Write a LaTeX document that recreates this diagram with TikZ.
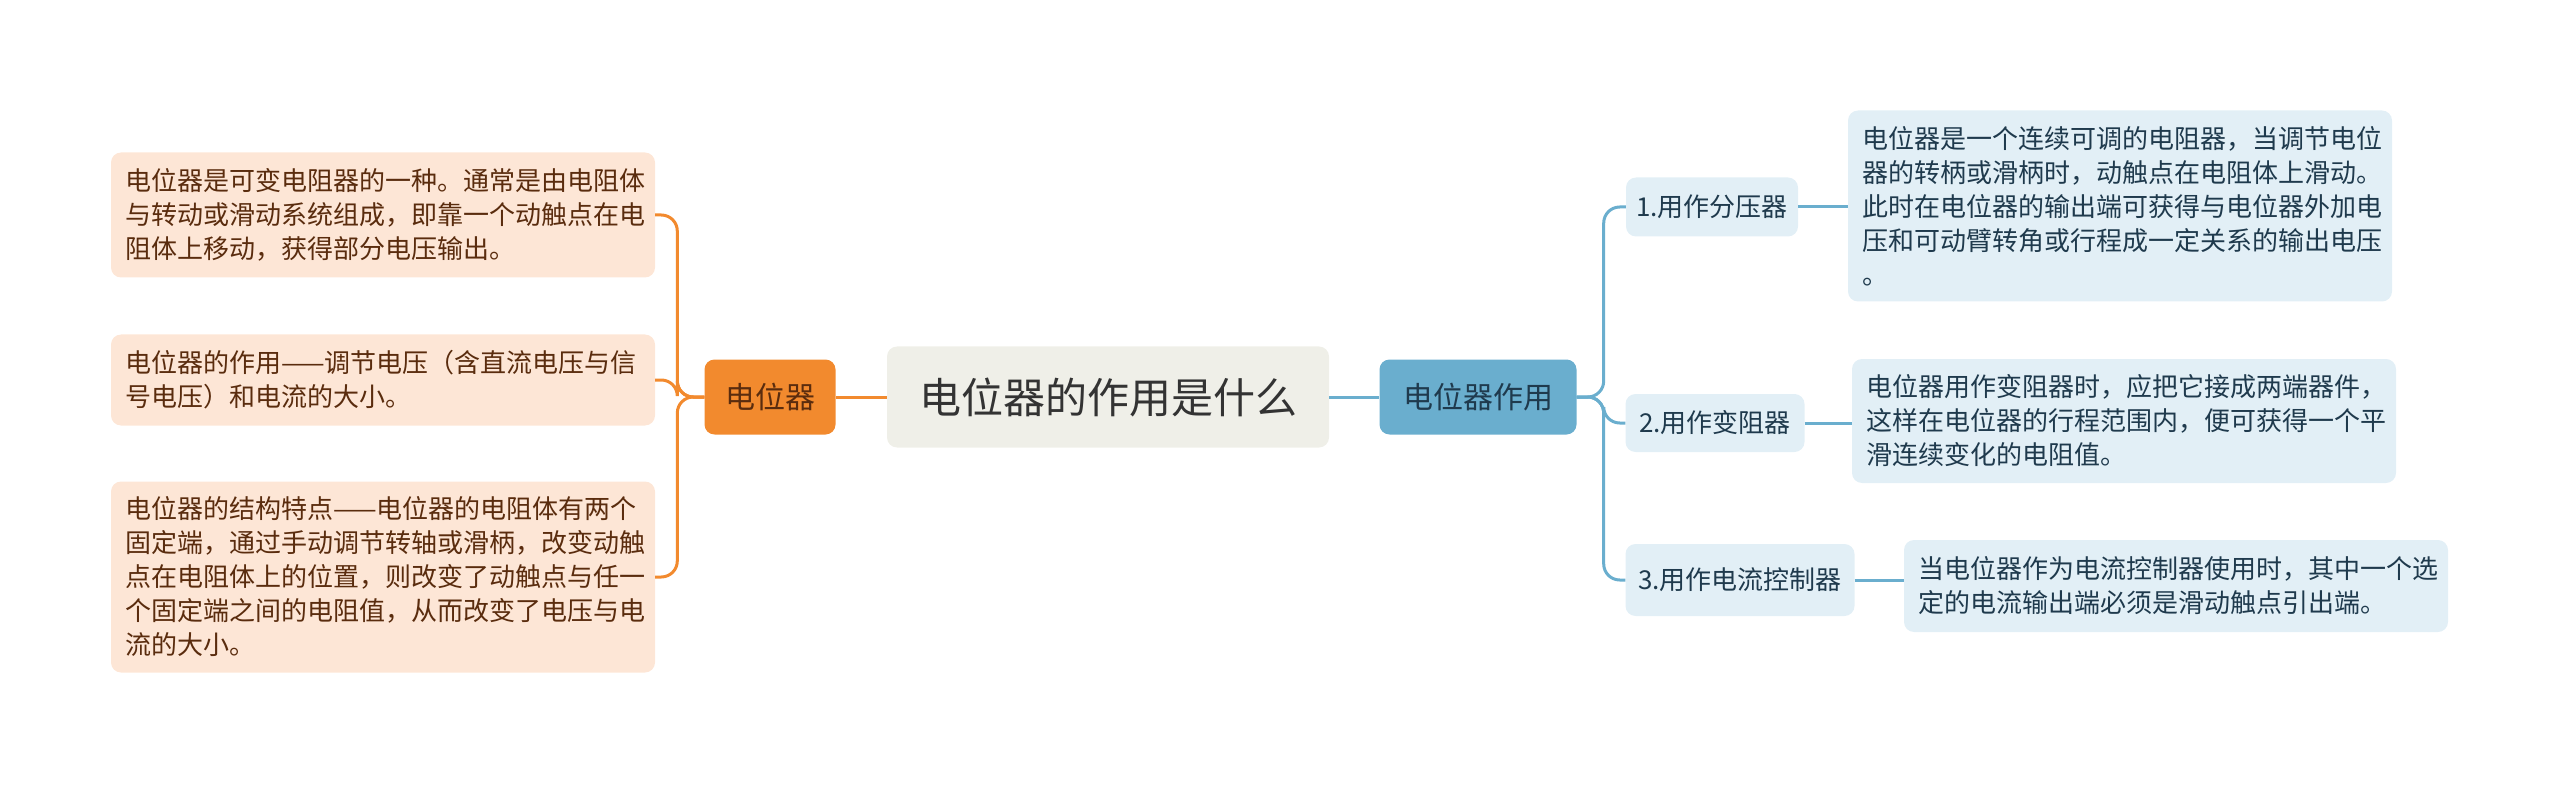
\documentclass[tikz,border=0pt]{standalone}
\usepackage{fontspec}
\setmainfont{Noto Sans CJK SC}
\usepackage{tikz}
\usetikzlibrary{positioning}
\definecolor{titlebg}{HTML}{EFEFE8}
\definecolor{orangebr}{HTML}{F28A2E}
\definecolor{orangelf}{HTML}{FDE6D6}
\definecolor{orangetx}{HTML}{5A2C0E}
\definecolor{bluebr}{HTML}{6AAECE}
\definecolor{bluelf}{HTML}{E2EFF6}
\definecolor{bluetx}{HTML}{1F3A4D}
\tikzset{
  leaf/.style={rounded corners=10, align=left, inner xsep=14, inner ysep=12,
    font=\fontsize{26}{34}\selectfont},
  lleaf/.style={leaf, fill=orangelf, text=orangetx, text width=516},
  rleaf/.style={leaf, fill=bluelf, text=bluetx, text width=516},
  midnode/.style={rounded corners=10, fill=bluelf, text=bluetx,
    font=\fontsize{26}{34}\selectfont},
  lline/.style={draw=orangebr, line width=3, rounded corners=16},
  rline/.style={draw=bluebr, line width=3, rounded corners=16}
}
\begin{document}
\begin{tikzpicture}[x=1pt,y=-1pt]
				\useasboundingbox (0,0) rectangle (2560,786);
				
				% Centre
				\node[rounded corners=10, fill=titlebg, text=black!80, minimum width=442, minimum height=101,
				  font=\fontsize{42}{50}\selectfont] (title) at (1108,397) {电位器的作用是什么};
				
				% Main branches
				\node[rounded corners=10, fill=orangebr, text=orangetx, minimum width=131, minimum height=75,
				  font=\fontsize{30}{36}\selectfont] (pot) at (770,397) {电位器};
				\node[rounded corners=10, fill=bluebr, text=bluetx, minimum width=197, minimum height=75,
				  font=\fontsize{30}{36}\selectfont] (use) at (1478,397) {电位器作用};
				\draw[lline] (title.west) -- (pot.east);
				\draw[rline] (title.east) -- (use.west);
				
				% Left leaves
				\node[lleaf, minimum height=125] (def) at (383,215)
				  {电位器是可变电阻器的一种。通常是由电阻体\\与转动或滑动系统组成，即靠一个动触点在电\\阻体上移动，获得部分电压输出。};
				\node[lleaf, minimum height=91] (role) at (383,380)
				  {电位器的作用——调节电压（含直流电压与信\\号电压）和电流的大小。};
				\node[lleaf, minimum height=191] (struct) at (383,577)
				  {电位器的结构特点——电位器的电阻体有两个\\固定端，通过手动调节转轴或滑柄，改变动触\\点在电阻体上的位置，则改变了动触点与任一\\个固定端之间的电阻值，从而改变了电压与电\\流的大小。};
				\foreach \n in {def,role,struct}
				  \draw[lline] (pot.west) -- ++(-27,0) |- (\n.east);
				
				% Right middle nodes
				\node[midnode, minimum width=172, minimum height=59] (divider) at (1712,207) {1.用作分压器};
				\node[midnode, minimum width=179, minimum height=58] (rheo) at (1715,423) {2.用作变阻器};
				\node[midnode, minimum width=229, minimum height=72] (ctrl) at (1740,580) {3.用作电流控制器};
				\foreach \n in {divider,rheo,ctrl}
				  \draw[rline] (use.east) -- ++(27,0) |- (\n.west);
				
				% Right leaves
				\node[rleaf, minimum height=191] (dividertx) at (2120,206)
				  {电位器是一个连续可调的电阻器，当调节电位\\器的转柄或滑柄时，动触点在电阻体上滑动。\\此时在电位器的输出端可获得与电位器外加电\\压和可动臂转角或行程成一定关系的输出电压\\。};
				\node[rleaf, minimum height=124] (rheotx) at (2124,421)
				  {电位器用作变阻器时，应把它接成两端器件，\\这样在电位器的行程范围内，便可获得一个平\\滑连续变化的电阻值。};
				\node[rleaf, minimum height=92] (ctrltx) at (2176,586)
				  {当电位器作为电流控制器使用时，其中一个选\\定的电流输出端必须是滑动触点引出端。};
				\draw[rline] (divider.east) -- (divider.east -| dividertx.west);
				\draw[rline] (rheo.east) -- (rheo.east -| rheotx.west);
				\draw[rline] (ctrl.east) -- (ctrl.east -| ctrltx.west);
				
			\end{tikzpicture}
\end{document}
